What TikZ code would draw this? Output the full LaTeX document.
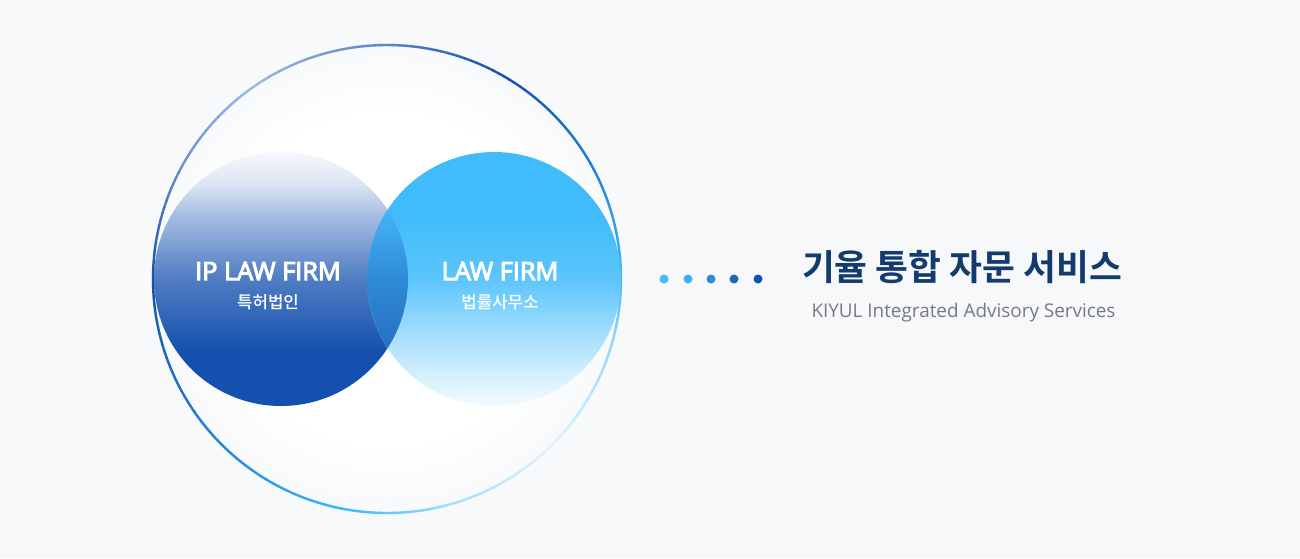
\documentclass[tikz,border=0pt]{standalone}
\usepackage{fontspec}
\usetikzlibrary{calc}
\setmainfont{Open Sans}
\newfontfamily\latinsemi[FakeBold=4]{Open Sans}
\newfontfamily\krmed{Noto Sans CJK KR Medium}
\newfontfamily\krbold{Noto Sans CJK KR Bold}
\definecolor{bgc}{HTML}{F6F8FA}
\definecolor{navy}{HTML}{133B6D}
\definecolor{dk}{HTML}{1450AE}
\definecolor{sky}{HTML}{40BBFB}
\definecolor{ringmid}{HTML}{2585DC}
\definecolor{greytxt}{HTML}{777B80}
\definecolor{ovtop}{HTML}{45B5F8}
\definecolor{ovmid}{HTML}{2F8AD6}
\definecolor{ovbot}{HTML}{2670C2}
\pgfdeclareradialshading{glow}{\pgfpointorigin}{color(0pt)=(white);color(15.3pt)=(white);color(18.5pt)=(bgc!45!white);color(21.7pt)=(bgc!82!white);color(24.2pt)=(bgc);color(50pt)=(bgc)}
\pgfdeclareverticalshading{leftgrad}{100bp}{color(0bp)=(dk);color(35.4bp)=(dk);color(50bp)=(dk!75!white);color(62.4bp)=(dk!38!white);color(68.7bp)=(dk!15!white);color(75bp)=(dk!4!white);color(100bp)=(dk!4!white)}
\pgfdeclareverticalshading{rightgrad}{100bp}{color(0bp)=(sky!6!white);color(25bp)=(sky!6!white);color(32bp)=(sky!25!white);color(38bp)=(sky!45!white);color(50bp)=(sky!85!white);color(62.6bp)=(sky);color(100bp)=(sky)}
\pgfdeclareverticalshading{overlapgrad}{100bp}{color(0bp)=(ovbot);color(36bp)=(ovbot);color(50bp)=(ovmid);color(63.6bp)=(ovtop);color(100bp)=(ovtop)}
\tikzset{x=1pt,y=-1pt,
  titletext/.style={text=navy,font=\krbold\fontsize{35.7}{36}\selectfont,inner sep=0},
  subtext/.style={text=greytxt,font=\fontsize{18.9}{19}\selectfont,inner sep=0},
  firmtext/.style={text=white,font=\latinsemi\fontsize{25.3}{26}\selectfont,inner sep=0},
  krtext/.style={text=white,font=\krmed\fontsize{16.8}{17}\selectfont,inner sep=0},
  dotmark/.style={circle,inner sep=0,minimum size=9pt},
  ringseg/.style={line width=2.4pt,line cap=butt}}
\begin{document}
\begin{tikzpicture}
\useasboundingbox (0,0) rectangle (1300,558);
\fill[bgc] (0,0) rectangle (1300,558);
\coordinate (cc) at (387,279);
\coordinate (cl) at (281,279);
\coordinate (cr) at (494,279);
\begin{scope}
\clip (0,0) rectangle (1300,558);
\shade[shading=glow] (cc) circle[radius=270];
\end{scope}
% conic ring
\foreach \a/\b/\cola/\colb in {
 60/90/dk/dk!70!white,
 90/125/dk!70!white/dk!40!white,
 125/150/dk!40!white/dk!62!white,
 150/180/dk!62!white/dk,
 180/225/dk/ringmid,
 225/262/ringmid/sky,
 262/285/sky/sky!50!white,
 285/315/sky!50!white/sky!15!white,
 315/345/sky!15!white/sky!60!white,
 345/360/sky!60!white/sky,
 360/385/sky/ringmid,
 385/420/ringmid/dk}{
  \pgfmathtruncatemacro{\nseg}{(\b-\a)/1.5}
  \foreach \i in {1,...,\nseg}{
    \pgfmathsetmacro{\t}{(\i-0.5)/\nseg*100}
    \pgfmathsetmacro{\sa}{\a+(\i-1)*(\b-\a)/\nseg}
    \pgfmathsetmacro{\sb}{\a+\i*(\b-\a)/\nseg+0.15}
    \colorlet{mixA}{\cola}\colorlet{mixB}{\colb}
    \colorlet{segc}{mixB!\t!mixA}
    \draw[segc,ringseg] ($(cc)+(\sa:234 and -234)$) arc[start angle=\sa,end angle=\sb,x radius=234,y radius=-234];
  }
}
\shade[shading=leftgrad] (cl) circle[radius=127];
\shade[shading=rightgrad] (cr) circle[radius=127];
\begin{scope}
\clip (cl) circle[radius=127];
\shade[shading=overlapgrad] (cr) circle[radius=127];
\end{scope}
\node[firmtext] (f1) at (268,271) {IP LAW FIRM};
\node[krtext] (k1) at (268,302) {특허법인};
\node[firmtext] (f2) at (500,271) {LAW FIRM};
\node[krtext] (k2) at (500,302) {법률사무소};
\node[titletext] (t) at (962,267) {기율 통합 자문 서비스};
\node[subtext] (s) at (963.5,313) {KIYUL Integrated Advisory Services};
\node[dotmark,fill=sky] (d1) at (664,279) {};
\node[dotmark,fill=sky!90!dk] (d2) at (688,279) {};
\node[dotmark,fill=dk!45!sky] (d3) at (711,279) {};
\node[dotmark,fill=dk!80!sky] (d4) at (734,279) {};
\node[dotmark,fill=dk] (d5) at (758,279) {};
\end{tikzpicture}
\end{document}
